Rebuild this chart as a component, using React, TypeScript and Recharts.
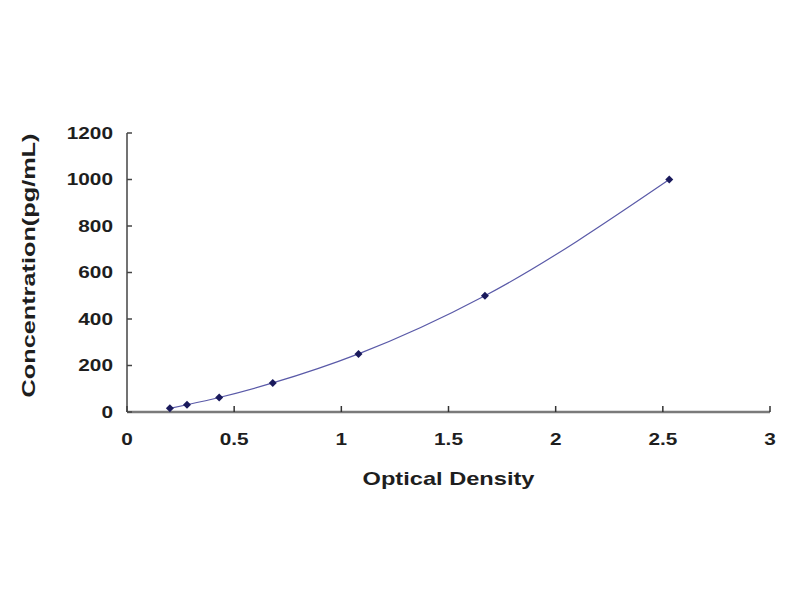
import { LineChart, Line, XAxis, YAxis, Label } from 'recharts'

// standard curve: optical density vs concentration
const odValues = [0.2, 0.28, 0.43, 0.68, 1.08, 1.67, 2.53]
const concValues = [15.6, 31.25, 62.5, 125, 250, 500, 1000]
const xTicks = [0, 0.5, 1, 1.5, 2, 2.5, 3]
const yTicks = [0, 200, 400, 600, 800, 1000, 1200]

const data = odValues.map((od, i) => ({ od, conc: concValues[i] }))

const FONT = '"Liberation Sans", Arial, sans-serif'
const INK = '#1e1e1e'

function XTick({ x, y, payload }: any) {
  return (
    <text
      transform={`translate(${x} ${y}) scale(1.3 1)`}
      textAnchor="middle"
      dy="0.72em"
      fontFamily={FONT}
      fontWeight="bold"
      fontSize={16}
      fill={INK}
    >
      {payload.value}
    </text>
  )
}

function YTick({ x, y, payload }: any) {
  return (
    <text
      transform={`translate(${x} ${y}) scale(1.3 1)`}
      textAnchor="end"
      dy="0.36em"
      fontFamily={FONT}
      fontWeight="bold"
      fontSize={16}
      fill={INK}
    >
      {payload.value}
    </text>
  )
}

function Diamond({ cx, cy }: any) {
  const r = 4
  return (
    <polygon
      points={`${cx},${cy - r} ${cx + r},${cy} ${cx},${cy + r} ${cx - r},${cy}`}
      fill="#1a1a5c"
    />
  )
}

export default function App() {
  return (
    <div style={{ position: 'absolute', left: 0, top: 0, background: '#fff' }}>
      <LineChart
        width={800}
        height={600}
        data={data}
        margin={{ top: 133, right: 30, bottom: 0, left: 0 }}
      >
        <XAxis
          type="number"
          dataKey="od"
          domain={[0, 3]}
          ticks={xTicks}
          height={188}
          stroke="#7a7a7a"
          axisLine={{ stroke: '#7a7a7a', strokeWidth: 2.5 }}
          tickLine={{ stroke: '#333', strokeWidth: 1.5 }}
          tickSize={-6}
          tickMargin={27}
          tick={<XTick />}
        >
          <Label
            content={({ viewBox }: any) => (
              <text
                x={viewBox.x + viewBox.width / 2}
                y={viewBox.y + 73}
                textAnchor="middle"
                textLength={172}
                lengthAdjust="spacingAndGlyphs"
                fontFamily={FONT}
                fontWeight="bold"
                fontSize={19}
                fill={INK}
              >
                Optical Density
              </text>
            )}
          />
        </XAxis>
        <YAxis
          type="number"
          domain={[0, 1200]}
          ticks={yTicks}
          width={127}
          axisLine={{ stroke: '#444', strokeWidth: 1.5 }}
          tickLine={{ stroke: '#444', strokeWidth: 1.5 }}
          tickSize={-5}
          tickMargin={19}
          tick={<YTick />}
        >
          <Label
            content={({ viewBox }: any) => {
              const cx = 28
              const cy = viewBox.y + viewBox.height / 2 - 7
              return (
                <text
                  x={cx}
                  y={cy}
                  transform={`rotate(-90 ${cx} ${cy})`}
                  textAnchor="middle"
                  dominantBaseline="central"
                  textLength={264}
                  lengthAdjust="spacingAndGlyphs"
                  fontFamily={FONT}
                  fontWeight="bold"
                  fontSize={19}
                  fill={INK}
                >
                  Concentration(pg/mL)
                </text>
              )
            }}
          />
        </YAxis>
        <Line
          type="monotone"
          dataKey="conc"
          stroke="#5a5aa8"
          strokeWidth={1.2}
          dot={<Diamond />}
          activeDot={false}
          isAnimationActive={false}
        />
      </LineChart>
    </div>
  )
}
